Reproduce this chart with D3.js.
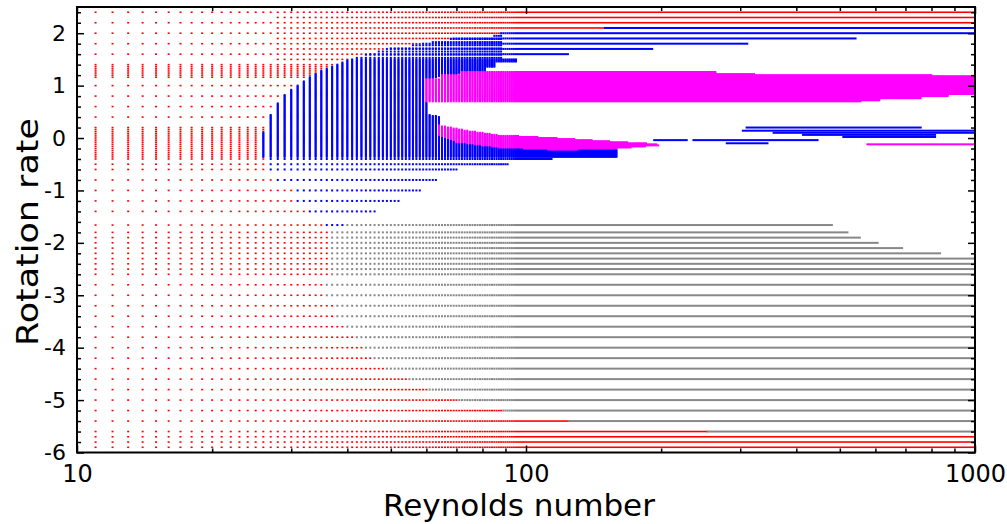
<!DOCTYPE html>
<html><head><meta charset="utf-8">
<script src="https://cdn.jsdelivr.net/npm/d3@7"></script>
<style>body{margin:0;background:#fff}svg{display:block}</style>
</head><body>
<svg id="c" width="1007" height="524"></svg>
<script>
// ---------------- data ----------------
const RED = '#ff0000', BLUE = '#0000ff', MAGENTA = '#ff00ff', GRAY = '#888888';

// sampled Reynolds numbers (columns of the parameter scan)
const reColumns = d3.range(11, 1001);
// rotation-rate rows sampled everywhere
const coarseRows = [2.4, 2.2, 2.0, 1.8, 1.6, 1.4, 1.0, 0.8, 0.6, 0.4, -0.4, -0.5, -0.6, -0.8, -1.0, -1.2, -1.4,
  -1.66, -1.8, -1.9, -2.0, -2.1, -2.2, -2.3, -2.4, -2.5, -2.6, -2.8, -3.0, -3.2, -3.4, -3.6, -3.8, -4.0,
  -4.2, -4.4, -4.6, -4.8, -5.0, -5.2, -5.4, -5.6, -5.7, -5.8, -5.9];
// extra rows sampled from Re = 28 upward
const topFineRows = [2.3, 2.1, 1.9, 1.7, 1.5];
const topFineFromRe = 28;
// fine rows (every 0.02) between these rotation rates, inside coloured regions
const denseRange = [-0.36, 1.48];
// rows every 0.06 near the top of the blue bubble, only up to this Re
const upperRows = [1.53, 1.59, 1.65, 1.71, 1.77, 1.83, 1.89, 1.95];
const upperMaxRe = 88;
// bands where the red zone is also sampled more finely (every 0.04)
const redDenseBands = [[-0.36, 0.2], [1.16, 1.36]];

// blue region (Re, rotation rate) outline
const bluePoly = [
  [26.2, -0.45], [26.0, -0.37], [26.0, 0.1], [26.6, 0.35], [27.6, 0.6], [28.7, 0.8], [30.3, 0.95],
  [32.2, 1.1], [34.4, 1.27], [37.5, 1.4], [40.3, 1.5], [44.2, 1.6], [48.9, 1.7], [58.9, 1.8], [68.4, 1.9],
  [88, 1.96], [88, 2.05], [150, 2.05], [150, 2.15], [1010, 2.15], [1010, 1.95], [543, 1.95], [543, 1.85],
  [312, 1.85], [312, 1.75], [192, 1.75], [192, 1.65], [125, 1.65], [125, 1.55], [96, 1.55], [96, 1.45],
  [86, 1.45], [86, 1.35], [82, 1.35], [82, 1.26], [66, 1.2], [60, 1.1], [60, 0.7], [61, 0.45], [64, 0.42],
  [65, 0.22], [87, 0.0], [120, -0.08], [160, -0.16], [160, -0.37], [115, -0.37], [115, -0.45], [92, -0.45],
  [92, -0.55], [71, -0.55], [71, -0.7], [63.4, -0.7], [63.4, -0.9], [58.7, -0.9], [58.7, -1.1], [52.9, -1.1],
  [52.9, -1.3], [46.6, -1.3], [46.6, -1.5], [39.5, -1.5], [39.5, -1.75], [36, -1.75], [36, -1.5], [32.3, -1.5],
  [32.3, -1.3], [30.6, -1.3], [30.6, -0.9], [27.9, -0.9], [27.9, -0.7], [26.9, -0.7], [26.9, -0.55],
  [26.5, -0.55], [26.5, -0.45]
];
// magenta band outline
const magentaBandPoly = [
  [59.5, 0.69], [59.5, 1.12], [65, 1.13], [65, 1.2], [72, 1.21], [72, 1.265], [265, 1.265], [265, 1.24],
  [323, 1.24], [323, 1.22], [800, 1.22], [800, 1.19], [1010, 1.19], [1010, 0.84], [870, 0.84], [870, 0.8],
  [757, 0.8], [757, 0.76], [613, 0.76], [613, 0.72], [557, 0.72], [557, 0.69]
];
// magenta tongue outline
const magentaTonguePoly = [
  [64, 0.25], [75, 0.14], [87, 0.06], [118, 0.0], [160, -0.07], [195, -0.11], [198, -0.14], [160, -0.2],
  [118, -0.23], [87, -0.18], [70, -0.08], [64, 0.05]
];
// gray rows: [rotation rate, Re start, Re end]
const grayRows = [
  [-1.66, 39.5, 480], [-1.8, 36.2, 520], [-1.9, 36.2, 554], [-2.0, 36.2, 607], [-2.1, 36.2, 688],
  [-2.2, 36.2, 836], [-2.3, 36.2, 1000], [-2.4, 36.2, 1000], [-2.5, 36.2, 1000], [-2.6, 36.2, 1000],
  [-2.8, 36, 1000], [-3.0, 36, 1000], [-3.2, 37.2, 1000], [-3.4, 38, 1000], [-3.6, 40, 1000],
  [-3.8, 41.6, 1000], [-4.0, 43.4, 1000], [-4.2, 45.6, 1000], [-4.4, 49, 1000], [-4.6, 54.3, 1000],
  [-4.8, 61, 1000], [-5.0, 71, 1000], [-5.2, 89, 1000], [-5.4, 125, 1000], [-5.6, 254, 1000]
];
// isolated blue / magenta row segments at the right
const blueLines = [
  [0.2, 310, 757], [0.14, 304, 1000], [0.1, 356, 1000], [0.06, 414, 815], [0.02, 509, 815],
  [-0.04, 193, 228], [-0.04, 236, 446], [-0.1, 280, 345]
];
const magentaLines = [[-0.12, 576, 1000]];

// axis ticks
const xMajor = [10, 100, 1000];
const xMinor = [20, 30, 40, 50, 60, 70, 80, 90, 200, 300, 400, 500, 600, 700, 800, 900];
const yMajor = [-6, -5, -4, -3, -2, -1, 0, 1, 2];
const yMinor = [-5.8, -5.6, -5.4, -5.2, -4.8, -4.6, -4.4, -4.2, -3.8, -3.6, -3.4, -3.2, -2.8, -2.6, -2.4, -2.2,
  -1.8, -1.6, -1.4, -1.2, -0.8, -0.6, -0.4, -0.2, 0.2, 0.4, 0.6, 0.8, 1.2, 1.4, 1.6, 1.8, 2.2, 2.4];

// ---------------- drawing ----------------
const X0 = 77, X1 = 975, Y0 = 452.5, Y1 = 7;
const W = 2;
const x = d3.scaleLog().domain([10, 1000]).range([X0, X1]);
const y = d3.scaleLinear().domain([-6, 2.5]).range([Y0, Y1]);
const svg = d3.select('#c');

const toLog = p => [Math.log10(p[0]), p[1]];
const polys = [
  {color: MAGENTA, pts: magentaBandPoly.map(toLog)},
  {color: MAGENTA, pts: magentaTonguePoly.map(toLog)},
  {color: BLUE, pts: bluePoly.map(toLog)}
];
const eq = (a, b) => Math.abs(a - b) < 1e-6;
function colourAt(re, yv) {
  for (const [yy, a, b] of magentaLines) if (eq(yy, yv) && re >= a && re <= b) return MAGENTA;
  for (const [yy, a, b] of blueLines) if (eq(yy, yv) && re >= a && re <= b) return BLUE;
  for (const [yy, a, b] of grayRows) if (eq(yy, yv) && re >= a && re <= b) return GRAY;
  const p = [Math.log10(re), yv];
  for (const P of polys) if (d3.polygonContains(P.pts, p)) return P.color;
  return null;
}

// build row list: Re from which red is sampled, Re up to which colours are sampled
const rowMap = new Map();
function addRow(yv, redFrom, colorMax) {
  const k = Math.round(yv * 100);
  const old = rowMap.get(k);
  if (!old) rowMap.set(k, {y: k / 100, redFrom, colorMax});
  else { old.redFrom = Math.min(old.redFrom, redFrom); old.colorMax = Math.max(old.colorMax, colorMax); }
}
coarseRows.forEach(v => addRow(v, 0, Infinity));
topFineRows.forEach(v => addRow(v, topFineFromRe, Infinity));
d3.range(Math.round(denseRange[0] * 100), Math.round(denseRange[1] * 100) + 1, 2).forEach(k => {
  const v = k / 100;
  const inBand = redDenseBands.some(([a, b]) => v >= a - 1e-9 && v <= b + 1e-9) && k % 4 === 0;
  addRow(v, inBand ? 0 : Infinity, Infinity);
});
upperRows.forEach(v => addRow(v, Infinity, upperMaxRe));

const runs = [];
for (const row of rowMap.values()) {
  let seen = false;
  const pts = [];
  for (const re of reColumns) {
    const c = re <= row.colorMax ? colourAt(re, row.y) : null;
    if (c) { seen = true; pts.push([x(re), c]); }
    else if (!seen && re >= row.redFrom) pts.push([x(re), RED]);
  }
  let start = null, last = null, col = null;
  const flush = () => { if (start !== null) runs.push({x0: start, x1: last, y: row.y, c: col}); };
  for (const [px, c] of pts) {
    if (start !== null && c === col && px - last <= W + 0.05) { last = px; }
    else { flush(); start = px; last = px; col = c; }
  }
  flush();
}

const order = {[RED]: 0, [GRAY]: 1, [BLUE]: 2, [MAGENTA]: 3};
runs.sort((a, b) => order[a.c] - order[b.c]);

svg.append('g').selectAll('rect').data(runs).join('rect')
  .attr('x', d => d.x0 - W / 2)
  .attr('width', d => d.x1 - d.x0 + W)
  .attr('y', d => y(d.y) - (d.c === RED ? 0.8 : 1))
  .attr('height', d => d.c === RED ? 1.6 : 2)
  .attr('fill', d => d.c);

// frame
svg.append('rect').attr('x', X0).attr('y', Y1).attr('width', X1 - X0).attr('height', Y0 - Y1)
  .attr('fill', 'none').attr('stroke', '#000').attr('stroke-width', 2);

function styleAxis(g, fs) {
  g.select('.domain').remove();
  g.selectAll('.tick line').attr('stroke', '#000').attr('stroke-width', 1.5);
  g.selectAll('.tick text').attr('fill', '#000').style('font-family', '"DejaVu Sans", sans-serif').style('font-size', fs + 'px');
}
const fmt = d => String(d);

svg.append('g').attr('transform', `translate(0,${Y0})`)
  .call(d3.axisBottom(x).tickValues(xMajor).tickFormat(fmt).tickSizeInner(-7).tickSizeOuter(0).tickPadding(12))
  .call(g => styleAxis(g, 24));
svg.append('g').attr('transform', `translate(0,${Y0})`)
  .call(d3.axisBottom(x).tickValues(xMinor).tickFormat('').tickSizeInner(-4).tickSizeOuter(0))
  .call(g => styleAxis(g, 24));
svg.append('g').attr('transform', `translate(0,${Y1})`)
  .call(d3.axisTop(x).tickValues(xMajor).tickFormat('').tickSizeInner(-7).tickSizeOuter(0))
  .call(g => styleAxis(g, 24));
svg.append('g').attr('transform', `translate(0,${Y1})`)
  .call(d3.axisTop(x).tickValues(xMinor).tickFormat('').tickSizeInner(-4).tickSizeOuter(0))
  .call(g => styleAxis(g, 24));

svg.append('g').attr('transform', `translate(${X0},0)`)
  .call(d3.axisLeft(y).tickValues(yMajor).tickFormat(fmt).tickSizeInner(-7).tickSizeOuter(0).tickPadding(11))
  .call(g => styleAxis(g, 22));
svg.append('g').attr('transform', `translate(${X0},0)`)
  .call(d3.axisLeft(y).tickValues(yMinor).tickFormat('').tickSizeInner(-4).tickSizeOuter(0))
  .call(g => styleAxis(g, 22));
svg.append('g').attr('transform', `translate(${X1},0)`)
  .call(d3.axisRight(y).tickValues(yMajor).tickFormat('').tickSizeInner(-7).tickSizeOuter(0))
  .call(g => styleAxis(g, 22));
svg.append('g').attr('transform', `translate(${X1},0)`)
  .call(d3.axisRight(y).tickValues(yMinor).tickFormat('').tickSizeInner(-4).tickSizeOuter(0))
  .call(g => styleAxis(g, 22));

// axis titles
svg.append('text').attr('x', 519).attr('y', 516).attr('text-anchor', 'middle')
  .attr('textLength', 272).attr('lengthAdjust', 'spacingAndGlyphs')
  .style('font-family', '"DejaVu Sans", sans-serif').style('font-size', '30px').attr('fill', '#000')
  .text('Reynolds number');
svg.append('text').attr('transform', 'translate(38,232) rotate(-90)').attr('text-anchor', 'middle')
  .attr('textLength', 228).attr('lengthAdjust', 'spacingAndGlyphs')
  .style('font-family', '"DejaVu Sans", sans-serif').style('font-size', '31px').attr('fill', '#000')
  .text('Rotation rate');
</script>
</body></html>
